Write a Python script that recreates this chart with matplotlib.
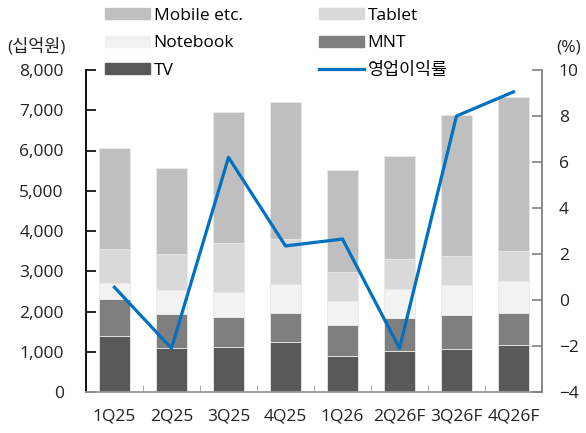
import matplotlib.pyplot as plt
import matplotlib.patches as mpatches
from matplotlib.lines import Line2D
import numpy as np

plt.rcParams['font.family'] = ['Open Sans', 'Noto Sans CJK KR', 'DejaVu Sans']

분기 = ['1Q25', '2Q25', '3Q25', '4Q25', '1Q26', '2Q26F', '3Q26F', '4Q26F']
tv = [1400, 1100, 1110, 1240, 900, 1030, 1080, 1170]
mnt = [900, 840, 750, 720, 770, 820, 830, 800]
notebook = [400, 590, 630, 720, 600, 720, 750, 790]
tablet = [850, 900, 1220, 1110, 710, 740, 730, 740]
mobile = [2500, 2140, 3250, 3410, 2540, 2560, 3490, 3830]
영업이익률 = [0.55, -2.1, 6.2, 2.35, 2.65, -2.1, 8.0, 9.05]

cores = {'TV': '#595959', 'MNT': '#7f7f7f', 'Notebook': '#f2f2f2',
         'Tablet': '#d9d9d9', 'Mobile etc.': '#bfbfbf'}

fig = plt.figure(figsize=(5.86, 4.33), dpi=100)
ax = fig.add_axes([86/586, 1-392/433, 456/586, 322/433])
ax2 = ax.twinx()

x = np.arange(len(분기))
base = np.zeros(len(분기))
series = [('TV', tv), ('MNT', mnt), ('Notebook', notebook),
          ('Tablet', tablet), ('Mobile etc.', mobile)]
for nome, vals in series:
    ax.bar(x, vals, 0.55, bottom=base, color=cores[nome],
           edgecolor='#e8e8e8', linewidth=0.6, zorder=2)
    base = base + np.array(vals)

ax2.plot(x, 영업이익률, color='#0070c0', linewidth=2.3, zorder=3)

ax.set_xlim(-0.5, 7.5)
ax.set_ylim(0, 8000)
ax.set_yticks(range(0, 8001, 1000))
ax.set_yticklabels([f'{v:,}' for v in range(0, 8001, 1000)])
ax2.set_ylim(-4, 10)
ax2.set_yticks(range(-4, 11, 2))

ax.set_xticks(x)
ax.set_xticklabels(분기)
ax.set_xticks(np.arange(-0.5, 8, 1), minor=True)
ax.tick_params(axis='x', which='major', length=0, pad=12, labelsize=12.5, colors='#222222')
ax.tick_params(axis='x', which='minor', direction='in', length=5, color='#999999')
ax.tick_params(axis='y', direction='in', length=7, width=1.2, pad=16,
               labelsize=12.5, color='#000000', labelcolor='#222222')
ax2.tick_params(axis='y', direction='in', length=7, width=1.2, pad=12,
                labelsize=12.5, color='#808080', labelcolor='#222222')

for a in (ax, ax2):
    a.spines['top'].set_visible(False)
ax.spines['left'].set_color('#000000')
ax.spines['left'].set_linewidth(1.3)
ax.spines['bottom'].set_color('#999999')
ax.spines['bottom'].set_linewidth(1.3)
ax.spines['right'].set_visible(False)
ax2.spines['left'].set_visible(False)
ax2.spines['bottom'].set_visible(False)
ax2.spines['right'].set_color('#808080')
ax2.spines['right'].set_linewidth(1.3)

fig.text(36/586, 1-47/433, '(십억원)', ha='center', va='center', fontsize=12.5, color='#222222')
fig.text(569/586, 1-47/433, '(%)', ha='center', va='center', fontsize=12.5, color='#222222')

handles = [mpatches.Patch(color=cores['Mobile etc.']),
           mpatches.Patch(color=cores['Notebook']),
           mpatches.Patch(color=cores['TV']),
           mpatches.Patch(color=cores['Tablet']),
           mpatches.Patch(color=cores['MNT']),
           Line2D([], [], color='#0070c0', linewidth=2.3)]
labels = ['Mobile etc.', 'Notebook', 'TV', 'Tablet', 'MNT', '영업이익률']
fig.legend(handles, labels, ncol=2, loc='upper left',
           bbox_to_anchor=(105/586, 1-8/433), frameon=False, borderpad=0,
           fontsize=12.5, handlelength=2.6, handleheight=0.6, handletextpad=0.2,
           labelspacing=0.66, columnspacing=4.4, borderaxespad=0)

fig.savefig('out.png', dpi=100)
